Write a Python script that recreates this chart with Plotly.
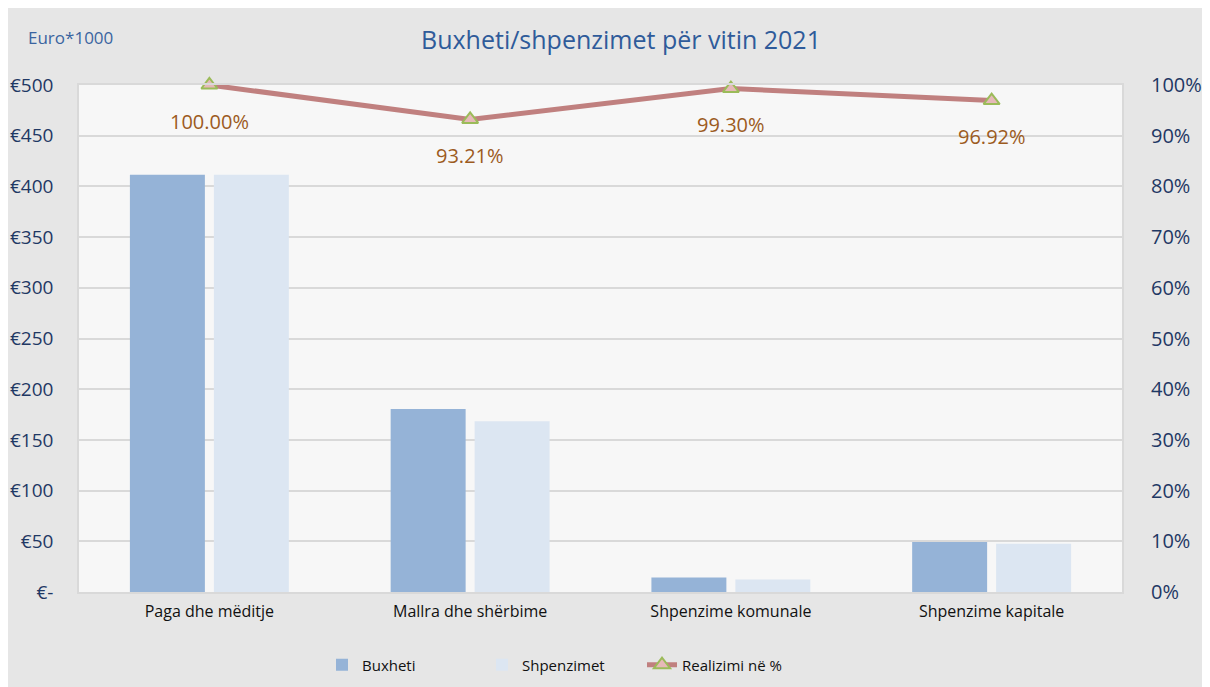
import plotly.graph_objects as go

categories = ["Paga dhe mëditje", "Mallra dhe shërbime", "Shpenzime komunale", "Shpenzime kapitale"]
buxheti = [411.5, 180.5, 14.2, 49.4]
shpenzimet = [411.5, 168.4, 12.4, 47.6]
realizimi = [1.0, 0.9321, 0.9930, 0.9692]
realizimi_labels = ["100.00%", "93.21%", "99.30%", "96.92%"]

left_tickvals = [0, 50, 100, 150, 200, 250, 300, 350, 400, 450, 500]
left_ticktext = ["€-", "€50", "€100", "€150", "€200", "€250", "€300", "€350", "€400", "€450", "€500"]
right_tickvals = [0, 0.1, 0.2, 0.3, 0.4, 0.5, 0.6, 0.7, 0.8, 0.9, 1.0]
right_ticktext = ["0%", "10%", "20%", "30%", "40%", "50%", "60%", "70%", "80%", "90%", "100%"]

FONT = "Open Sans"
W, H = 1195, 679
ML, MR, MT, MB = 71, 81, 77, 95
PW, PH = W - ML - MR, H - MT - MB

def px_x(p):
    return (p - ML) / PW

def px_y(p):
    return (H - MB - p) / PH

fig = go.Figure()
fig.add_trace(go.Bar(x=categories, y=buxheti, name="Buxheti",
                     marker=dict(color="#95b3d7", line=dict(width=0))))
fig.add_trace(go.Bar(x=categories, y=shpenzimet, name="Shpenzimet",
                     marker=dict(color="#dce6f2", line=dict(width=0))))
fig.add_trace(go.Scatter(x=categories, y=realizimi, name="Realizimi në %", yaxis="y2",
                         mode="lines+markers", cliponaxis=False,
                         line=dict(color="#c0807f", width=5),
                         marker=dict(symbol="triangle-up", size=14, color="#e6b9b8",
                                     line=dict(color="#9bbb59", width=2))))

for c, v, t in zip(categories, realizimi, realizimi_labels):
    fig.add_annotation(x=c, y=v, xref="x", yref="y2", text=t, showarrow=False,
                       yshift=-36, font=dict(family=FONT, size=20, color="#9c5b1e"))

fig.add_annotation(xref="paper", yref="paper", x=px_x(18), y=px_y(30), xanchor="left",
                   yanchor="middle", text="Euro*1000", showarrow=False,
                   font=dict(family=FONT, size=17, color="#3a64a0"))

fig.update_layout(
    width=W, height=H,
    margin=dict(l=ML, r=MR, t=MT, b=MB, autoexpand=False),
    paper_bgcolor="#e6e6e6",
    plot_bgcolor="#f7f7f7",
    title=dict(text="Buxheti/shpenzimet për vitin 2021", x=613 / W, xanchor="center",
               y=1 - 32 / H, yanchor="middle",
               font=dict(family=FONT, size=25, color="#2f5b9a")),
    barmode="group", bargap=0.356, bargroupgap=0.107,
    font=dict(family=FONT, color="#1f3864"),
    xaxis=dict(showgrid=False, showline=True, mirror=True, linecolor="#d9d9d9", linewidth=1.5,
               automargin=False,
               ticks="outside", ticklen=4, tickcolor="rgba(0,0,0,0)",
               tickfont=dict(family=FONT, size=16, color="#111111")),
    yaxis=dict(range=[0, 500], tickvals=left_tickvals, ticktext=left_ticktext,
               showgrid=True, gridcolor="#d9d9d9", gridwidth=2, zeroline=False,
               showline=True, mirror=True, linecolor="#d9d9d9", linewidth=1.5,
               automargin=False,
               ticks="outside", ticklen=20, tickcolor="rgba(0,0,0,0)",
               tickfont=dict(family=FONT, size=19, color="#1f3864")),
    yaxis2=dict(range=[0, 1], tickvals=right_tickvals, ticktext=right_ticktext,
                overlaying="y", side="right", showgrid=False, zeroline=False,
                automargin=False,
                ticks="outside", ticklen=24, tickcolor="rgba(0,0,0,0)",
                tickfont=dict(family=FONT, size=20, color="#1f3864")),
    legend=dict(orientation="h", x=px_x(314), xanchor="left", y=px_y(657),
                yanchor="middle", font=dict(family=FONT, size=15, color="#111111"),
                bgcolor="rgba(0,0,0,0)", entrywidth=115),
    showlegend=True,
)

fig.write_html("out.html")
